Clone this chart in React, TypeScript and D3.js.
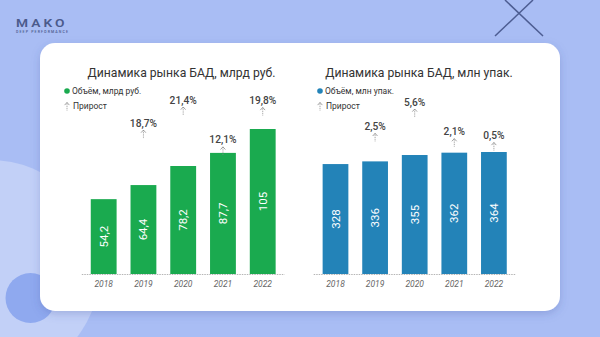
import React from "react";
import * as d3 from "d3";

const years = ["2018", "2019", "2020", "2021", "2022"];
const rubValues = [54.2, 64.4, 78.2, 87.7, 105];
const rubGrowth: (number | null)[] = [null, 18.7, 21.4, 12.1, 19.8];
const packValues = [328, 336, 355, 362, 364];
const packGrowth: (number | null)[] = [null, 2.5, 5.6, 2.1, 0.5];

// layout: how far (px) each growth label sits above its bar top
const rubLift = [0, 62, 66, 13, 28.5];
const packLift = [0, 35, 53, 21, 16.5];

const FONT = "Roboto, 'Noto Sans', sans-serif";
const fmt = (v: number) => String(v).replace(".", ",");

type PanelProps = {
  title: string;
  legend: string;
  color: string;
  values: number[];
  growth: (number | null)[];
  lift: number[];
  x0: number;
  x1: number;
  top: number;
  titleX: number;
  legendX: number;
};

function Arrow({ x, y, h = 8 }: { x: number; y: number; h?: number }) {
  return (
    <g>
      <line x1={x} x2={x} y1={y} y2={y + h} stroke="#8a8a8a" strokeWidth={0.8} strokeDasharray="1,0.8" />
      <path d={`M${x - 2.4},${y + 2.6} L${x},${y} L${x + 2.4},${y + 2.6}`} fill="none" stroke="#8a8a8a" strokeWidth={0.8} />
    </g>
  );
}

function Panel({ title, legend, color, values, growth, lift, x0, x1, top: maxTop, titleX, legendX }: PanelProps) {
  const baseY = 274;
  const x = d3.scaleBand<string>().domain(years).range([x0, x1]).paddingInner(0.35).paddingOuter(0.175);
  const y = d3.scaleLinear().domain([0, d3.max(values) as number]).range([baseY, maxTop]);
  const bw = x.bandwidth();
  return (
    <g>
      <text x={titleX} y={76.5} textAnchor="middle" fontFamily={FONT} fontSize={12.2} fill="#333">
        {title}
      </text>
      <circle cx={legendX} cy={91} r={2.8} fill={color} />
      <text x={legendX + 5} y={94} fontFamily={FONT} fontSize={8.5} fill="#333">
        {legend}
      </text>
      <Arrow x={legendX} y={102.5} h={8} />
      <text x={legendX + 6} y={109} fontFamily={FONT} fontSize={8.5} fill="#333">
        Прирост
      </text>
      <line x1={x0 - 2} x2={x1 + 2} y1={baseY + 0.5} y2={baseY + 0.5} stroke="#b5b5b5" strokeWidth={1} strokeDasharray="1.5,1" />
      {years.map((yr, i) => {
        const bx = x(yr) as number;
        const t = y(values[i]);
        const cx = bx + bw / 2;
        const cy = (t + baseY) / 2;
        const g = growth[i];
        const ly = t - lift[i];
        return (
          <g key={yr}>
            <rect x={bx} y={t} width={bw} height={baseY - t} fill={color} />
            <text
              transform={`translate(${cx},${cy}) rotate(-90)`}
              textAnchor="middle"
              dy="0.35em"
              fontFamily={FONT}
              fontSize={11.5}
              fill="#fff"
            >
              {fmt(values[i])}
            </text>
            <text x={cx} y={287} textAnchor="middle" fontFamily={FONT} fontStyle="italic" fontSize={8.5} fill="#666">
              {yr}
            </text>
            {g !== null && (
              <g>
                <text x={cx} y={ly} dy="0.35em" textAnchor="middle" fontFamily={FONT} fontWeight={500} fontSize={10.2} fill="#444">
                  {fmt(g)}%
                </text>
                <Arrow x={cx} y={ly + 7} h={8} />
              </g>
            )}
          </g>
        );
      })}
    </g>
  );
}

export default function App() {
  return (
    <svg
      width={600}
      height={337}
      viewBox="0 0 600 337"
      style={{ position: "fixed", left: 0, top: 0, display: "block" }}
    >
      <defs>
        <filter id="sh" x="-10%" y="-10%" width="120%" height="130%">
          <feDropShadow dx="0" dy="3" stdDeviation="4" floodColor="#3a4f9a" floodOpacity="0.25" />
        </filter>
      </defs>
      <rect x={0} y={0} width={600} height={337} fill="#a9bdf4" />
      <circle cx={-10} cy={270} r={110} fill="#c2d0f7" />
      <circle cx={30.5} cy={298} r={25} fill="#8fa9ef" />
      <line x1={495} y1={36} x2={533} y2={0} stroke="#4d5d92" strokeWidth={1.5} />
      <line x1={505} y1={0} x2={543} y2={36} stroke="#4d5d92" strokeWidth={1.5} />
      <text
        transform="translate(16,26.5) scale(1.2,1)"
        fontFamily={FONT}
        fontWeight={600}
        fontSize={11.5}
        letterSpacing={2.5}
        fill="#4b5a8c"
      >
        MAKO
      </text>
      <text x={16} y={33} fontFamily={FONT} fontWeight={500} fontSize={3.6} fill="#4b5a8c" textLength={52} lengthAdjust="spacing">
        DEEP PERFORMANCE
      </text>
      <rect x={40} y={43} width={520} height={268} rx={15} fill="#fff" filter="url(#sh)" />
      <Panel
        title="Динамика рынка БАД, млрд руб."
        legend="Объём, млрд руб."
        color="#1aaa4f"
        values={rubValues}
        growth={rubGrowth}
        lift={rubLift}
        x0={83.8}
        x1={282.6}
        top={129}
        titleX={181.5}
        legendX={67}
      />
      <Panel
        title="Динамика рынка БАД, млн упак."
        legend="Объём, млн упак."
        color="#2383b8"
        values={packValues}
        growth={packGrowth}
        lift={packLift}
        x0={315.7}
        x1={513.7}
        top={152}
        titleX={419}
        legendX={320}
      />
    </svg>
  );
}
